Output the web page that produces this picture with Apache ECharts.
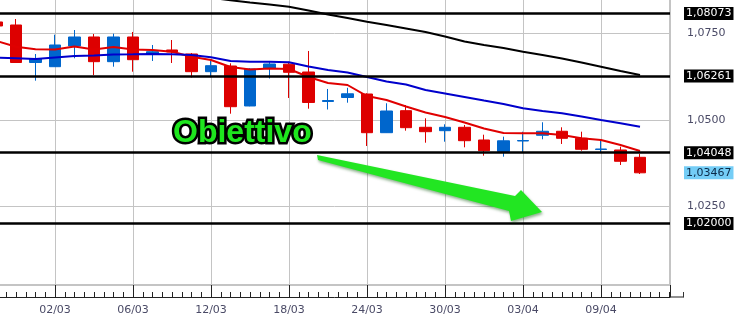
<!DOCTYPE html>
<html><head><meta charset="utf-8">
<script src="https://cdn.jsdelivr.net/npm/echarts@6/dist/echarts.min.js"></script>
<style>html,body{margin:0;padding:0;background:#fff}#c{width:742px;height:323px}</style>
</head><body><div id="c"></div>
<script>
const dates = ['25/02','26/02','27/02','02/03','03/03','04/03','05/03','06/03','09/03','10/03','11/03','12/03','13/03','16/03','17/03','18/03','19/03','20/03','23/03','24/03','25/03','26/03','27/03','30/03','31/03','01/04','02/04','03/04','06/04','07/04','08/04','09/04','10/04','13/04'];
const openV  = [1.07825,1.07738,1.06654,1.06533,1.07131,1.07391,1.06678,1.07391,1.06891,1.07016,1.06900,1.06389,1.06553,1.05398,1.06481,1.06605,1.06380,1.05528,1.05643,1.05744,1.04626,1.05262,1.04782,1.04684,1.04782,1.04415,1.04083,1.04386,1.04551,1.04667,1.04464,1.04141,1.04126,1.03915];
const closeV = [1.07709,1.06654,1.06761,1.07160,1.07391,1.06678,1.07391,1.06735,1.06966,1.06958,1.06389,1.06562,1.05377,1.06467,1.06611,1.06371,1.05499,1.05556,1.05750,1.04626,1.05253,1.04771,1.04655,1.04782,1.04395,1.04106,1.04392,1.04400,1.04667,1.04464,1.04146,1.04155,1.03800,1.03467];
const lowV   = [1.07651,1.06640,1.06129,1.06524,1.06776,1.06293,1.06533,1.06389,1.06698,1.06640,1.06221,1.06227,1.05175,1.05390,1.06192,1.05629,1.05320,1.05296,1.05493,1.04242,1.04620,1.04684,1.04337,1.04366,1.04204,1.03962,1.03933,1.04054,1.04435,1.04300,1.04106,1.04048,1.03693,1.03433];
const highV  = [1.07882,1.07911,1.06900,1.07458,1.07593,1.07478,1.07487,1.07536,1.07160,1.07304,1.06929,1.06698,1.06631,1.06490,1.06698,1.06678,1.06987,1.05889,1.05923,1.05764,1.05476,1.05426,1.05042,1.04869,1.04849,1.04568,1.04511,1.04655,1.04927,1.04782,1.04655,1.04415,1.04222,1.04011];
const maRed   = [1.07276,1.07111,1.07036,1.07030,1.07117,1.07030,1.07102,1.07030,1.07016,1.06966,1.06822,1.06727,1.06524,1.06452,1.06481,1.06467,1.06235,1.06062,1.06004,1.05686,1.05571,1.05383,1.05210,1.05080,1.04921,1.04747,1.04617,1.04609,1.04609,1.04560,1.04464,1.04415,1.04271,1.04097];
const maBlue  = [1.06793,1.06776,1.06756,1.06799,1.06842,1.06857,1.06886,1.06891,1.06900,1.06891,1.06871,1.06805,1.06698,1.06678,1.06678,1.06660,1.06539,1.06438,1.06365,1.06235,1.06105,1.06019,1.05860,1.05759,1.05658,1.05556,1.05455,1.05331,1.05253,1.05187,1.05094,1.04993,1.04898,1.04799];
const maBlack = [null,null,null,null,null,null,null,null,null,null,null,1.08524,1.08452,1.08388,1.08330,1.08267,1.08157,1.08041,1.07940,1.07833,1.07738,1.07637,1.07536,1.07406,1.07261,1.07160,1.07073,1.06966,1.06871,1.06770,1.06654,1.06533,1.06409,1.06293];
const levels = [1.08073, 1.06261, 1.04048, 1.02000];
const lastPrice = 1.03467;
const xTickLabels = ['02/03','06/03','12/03','18/03','24/03','30/03','03/04','09/04'];

const FONT = 'DejaVu Sans';
const candles = dates.map((d,i)=>[i+1, openV[i], closeV[i], lowV[i], highV[i]]);
const lineData = arr => dates.map((d,i)=>[i+1, arr[i]==null ? '-' : arr[i]]);
const fmt5 = v => Number(v).toFixed(5).replace('.', ',');

const chart = echarts.init(document.getElementById('c'), null, {renderer:'canvas'});
const markData = levels.map(v => ({yAxis: v, label:{backgroundColor:'#000', color:'#fff'}}));
markData.push({yAxis: lastPrice, lineStyle:{color:'rgba(0,0,0,0)', width:0}, label:{backgroundColor:'#74cdf6', color:'#0b2a48'}});

chart.setOption({
  animation:false,
  backgroundColor:'#fff',
  grid:{left:-23, right:72, top:0, bottom:30.2, outerBoundsMode:'none'},
  xAxis:{type:'value', min:0, max:35.538, interval:4, offset:4.2,
    axisLine:{show:true, onZero:false, lineStyle:{color:'#222', width:1}},
    axisTick:{show:true, inside:true, length:12, lineStyle:{color:'#222'}},
    minorTick:{show:true, splitNumber:8, length:5, lineStyle:{color:'#222'}},
    axisLabel:{margin:8, fontSize:11, fontFamily:FONT, color:'#4a4a66',
      formatter: v => { const d = dates[Math.round(v)-1]; return (Math.abs(v-Math.round(v))<1e-6 && xTickLabels.includes(d)) ? d : ''; }},
    splitLine:{show:true, lineStyle:{color:'#c4c4c4', width:1}}
  },
  yAxis:{type:'value', position:'right', min:1.0, max:1.0846, interval:0.025, offset:13, scale:true,
    axisLine:{show:true, lineStyle:{color:'#333', width:1}},
    axisTick:{show:true, inside:true, length:12, lineStyle:{color:'#333'}},
    minorTick:{show:true, splitNumber:10, length:4, lineStyle:{color:'#333'}},
    axisLabel:{margin:4, fontSize:11, fontFamily:FONT, color:'#4a4a66', showMinLabel:false, showMaxLabel:false,
      formatter: v => v.toFixed(4).replace('.', ',')},
    splitLine:{show:true, showMinLine:false, showMaxLine:false, lineStyle:{color:'#c4c4c4', width:1}}
  },
  series:[
    {type:'candlestick', data:candles, encode:{x:0, y:[1,2,3,4]}, barWidth:12, z:2,
      itemStyle:{color:'#0066cc', color0:'#dd0000', borderColor:'#0066cc', borderColor0:'#dd0000', borderWidth:1},
      markLine:{silent:true, symbol:['none','none'], animation:false, precision:5,
        lineStyle:{color:'#000', width:2.5, type:'solid'},
        label:{show:true, position:'end', distance:14, fontFamily:FONT, fontSize:11, padding:[1,2,0,2], lineHeight:12,
          formatter: p => fmt5(p.value)},
        emphasis:{disabled:true},
        data: markData}
    },
    {type:'line', data:lineData(maRed), showSymbol:false, z:4, lineStyle:{color:'#e00000', width:2}, itemStyle:{color:'#e00000'}},
    {type:'line', data:lineData(maBlue), showSymbol:false, z:4, lineStyle:{color:'#0000cc', width:2}, itemStyle:{color:'#0000cc'}},
    {type:'line', data:lineData(maBlack), showSymbol:false, z:4, connectNulls:false, lineStyle:{color:'#000', width:2}, itemStyle:{color:'#000'}}
  ],
  graphic:[
    {type:'rect', silent:true, z:-1, shape:{x:-10, y:-10, width:680, height:295}, style:{fill:'none', stroke:'#c4c4c4', lineWidth:2}},
    {type:'line', silent:true, shape:{x1:670, y1:297, x2:683.5, y2:297}, style:{stroke:'#222', lineWidth:1}},
    {type:'line', silent:true, shape:{x1:683.5, y1:292, x2:683.5, y2:297.5}, style:{stroke:'#333', lineWidth:1}},
    {type:'polygon', silent:true, z:50,
      shape:{points:[[317,155],[515,196],[521,190],[542,212],[511,221],[509,211],[318,160]]},
      style:{fill:'#22e622', shadowBlur:3, shadowColor:'rgba(0,80,0,0.45)', shadowOffsetX:1, shadowOffsetY:2}},
    {type:'text', silent:true, z:60, x:173, y:133,
      style:{text:'Obiettivo', font:'bold 32px "Liberation Sans"', fill:'#1ee61e', stroke:'#000', lineWidth:5,
        verticalAlign:'middle', align:'left', shadowBlur:3, shadowColor:'rgba(0,0,0,0.5)', shadowOffsetX:2, shadowOffsetY:2}}
  ]
});
</script></body></html>
